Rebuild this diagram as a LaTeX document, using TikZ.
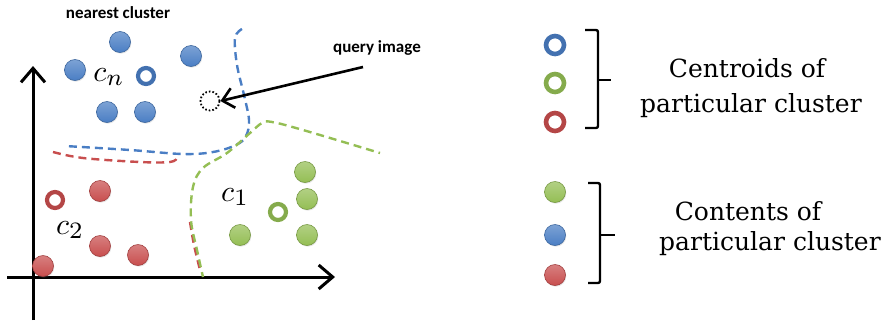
\documentclass[tikz,border=0pt]{standalone}
\usepackage{fontspec}
\newfontfamily\labelfont{Carlito}
\newfontfamily\legendfont{DejaVu Serif}
\usetikzlibrary{arrows.meta,shadows}
\definecolor{cblue}{RGB}{74,126,196}
\definecolor{cgreen}{RGB}{148,190,84}
\definecolor{cred}{RGB}{200,78,78}
\newcommand{\clabel}[2]{\scalebox{3.0}{$#1_{\scalebox{1.12}{$\scriptstyle #2$}}$}}
\begin{document}
\begin{tikzpicture}[x=1pt,y=-1pt,
  dot/.style={circle, minimum size=21pt, inner sep=0pt, draw=#1!80!black, line width=0.6pt,
    top color=#1!72!white, bottom color=#1,
    drop shadow={opacity=0.2, shadow xshift=0.8pt, shadow yshift=-1.2pt}},
  ring/.style={circle, minimum size=16pt, inner sep=0pt, draw=#1!90!black, line width=4.2pt},
  bigring/.style={circle, minimum size=18pt, inner sep=0pt, draw=#1!90!black, line width=4.6pt},
  query/.style={circle, minimum size=19pt, inner sep=0pt, draw=black, line width=1.8pt,
    dash pattern=on 1.6pt off 2pt},
  bound/.style={draw=#1, line width=2.4pt, dash pattern=on 8pt off 5pt},
  axis/.style={line width=3pt, -{Straight Barb[length=14pt,width=24pt,line width=3pt]}},
  brack/.style={line width=2.4pt, rounded corners=2pt},
  tag/.style={font=\labelfont\bfseries\fontsize{17}{20}\selectfont, inner sep=0pt},
  cname/.style={inner sep=0pt},
  legtext/.style={font=\legendfont\fontsize{25}{30}\selectfont, inner sep=0pt, anchor=base}]
\useasboundingbox (0,0) rectangle (883,322);

% coordinate axes
\coordinate (ybot) at (33,320);
\coordinate (ytop) at (33,66);
\coordinate (xleft) at (7,277);
\coordinate (xright) at (335,277);
\draw[axis] (ybot) -- (ytop);
\draw[axis] (xleft) -- (xright);

% cluster boundaries
\draw[bound=cred] plot[smooth, tension=0.6] coordinates {(53,152) (83,158) (140,162) (170,162) (177,158)};
\draw[bound=cred] plot[smooth] coordinates {(190,222) (194,245) (200,270)};
\draw[bound=cblue] plot[smooth, tension=0.6] coordinates {(242,29) (235,38) (237,65) (244,95) (249,120) (246,136) (236,145) (213,152) (183,154) (130,150) (65,146)};
\draw[bound=cgreen, dash phase=3pt] plot[smooth, tension=0.6] coordinates {(203,277) (197,250) (191,220) (193,187) (203,168) (227,153) (250,133) (262,123) (272,122) (303,130) (380,153)};

% blue cluster
\node[dot=cblue] (b1) at (120,42) {};
\node[dot=cblue] (b2) at (75,70) {};
\node[dot=cblue] (b3) at (191,56) {};
\node[dot=cblue] (b4) at (107,112) {};
\node[dot=cblue] (b5) at (145,112) {};
\node[ring=cblue] (bc) at (146,76) {};
\node[cname] (cn) at (109,77) {\clabel{c}{n}};

% green cluster
\node[dot=cgreen] (g1) at (305,172) {};
\node[dot=cgreen] (g2) at (307,199) {};
\node[dot=cgreen] (g3) at (307,235) {};
\node[dot=cgreen] (g4) at (240,235) {};
\node[ring=cgreen] (gc) at (278,212) {};
\node[cname] (c1) at (235,197) {\clabel{c}{1}};

% red cluster
\node[dot=cred] (r1) at (100,191) {};
\node[dot=cred] (r2) at (100,246) {};
\node[dot=cred] (r3) at (138,255) {};
\node[dot=cred] (r4) at (43,266) {};
\node[ring=cred] (rc) at (55,200) {};
\node[cname] (c2) at (70,230) {\clabel{c}{2}};

% query and labels
\node[query] (q) at (210,101) {};
\node[tag] (near) at (118,13) {nearest cluster};
\node[tag] (qlabel) at (377,48) {query image};
\coordinate (qstart) at (363,67);
\draw[line width=2.6pt, -{Straight Barb[length=11pt,width=20pt,line width=2.6pt]}] (qstart) -- (q.east);

% legend: centroids
\node[bigring=cblue] (lb) at (555,45) {};
\node[bigring=cgreen] (lg) at (555,83) {};
\node[bigring=cred] (lr) at (555,122) {};
\draw[brack] (585,30) -- (598,30) -- (598,128) -- (585,128);
\draw[brack] (598,80) -- (611,80);
\node[legtext] (t1) at (747,77) {Centroids of};
\node[legtext] (t2) at (751,112) {particular cluster};

% legend: contents
\node[dot=cgreen] (dg) at (555,192) {};
\node[dot=cblue] (db) at (555,235) {};
\node[dot=cred] (dr) at (555,275) {};
\draw[brack] (588,183) -- (600,183) -- (600,283) -- (588,283);
\draw[brack] (600,235) -- (615,235);
\node[legtext] (t3) at (748,220) {Contents of};
\node[legtext] (t4) at (770,250) {particular cluster};
\end{tikzpicture}
\end{document}
